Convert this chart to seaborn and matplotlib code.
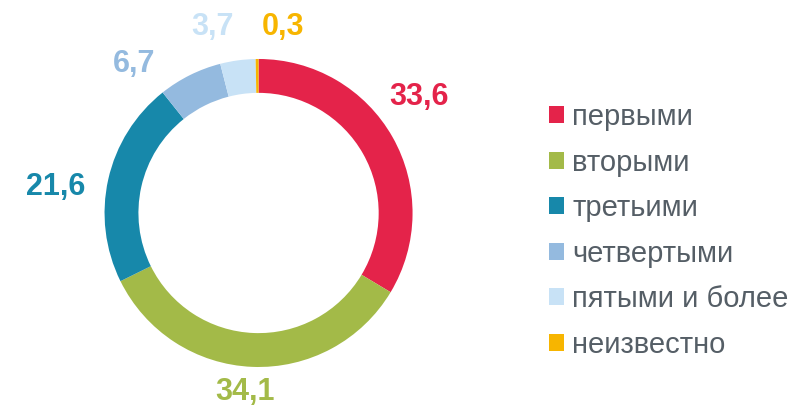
import matplotlib
matplotlib.use("Agg")
import matplotlib.pyplot as plt
import seaborn as sns

sns.set_theme(style="white")
plt.rcParams["font.family"] = ["Liberation Sans", "DejaVu Sans"]

categories = ["первыми", "вторыми", "третьими", "четвертыми", "пятыми и более", "неизвестно"]
shares = [33.6, 34.1, 21.6, 6.7, 3.7, 0.3]
value_labels = ["33,6", "34,1", "21,6", "6,7", "3,7", "0,3"]
colors = sns.color_palette(["#e4234a", "#a3ba48", "#1788aa", "#94badf", "#c8e2f6", "#f7b500"])

# label spots around the ring (data units, ring radius = 1)
label_pos = [(1.04, 0.75), (-0.09, -1.16), (-1.32, 0.17), (-0.81, 0.97), (-0.30, 1.21), (0.16, 1.21)]

fig = plt.figure(figsize=(7.92, 4.09), dpi=100)
ax = fig.add_axes([0.132, 0.1027, 0.3889, 0.7531])

wedges, _ = ax.pie(
    shares,
    colors=colors,
    startangle=90,
    counterclock=False,
    radius=1,
    wedgeprops=dict(width=0.22, linewidth=0),
)
ax.set_xlim(-1, 1)
ax.set_ylim(-1, 1)
ax.set_aspect("equal")
ax.axis("off")

for (x, y), txt, c in zip(label_pos, value_labels, colors):
    ax.text(x, y, txt, ha="center", va="center", fontsize=22, fontweight="bold", color=c)

fig.legend(
    wedges,
    categories,
    loc="center left",
    bbox_to_anchor=(0.693, 0.435),
    frameon=False,
    fontsize=21,
    borderpad=0,
    borderaxespad=0,
    handlelength=0.52,
    handleheight=0.52,
    handletextpad=0.28,
    labelspacing=0.6,
    labelcolor="#555e66",
)

fig.savefig("out.png", dpi=100)
